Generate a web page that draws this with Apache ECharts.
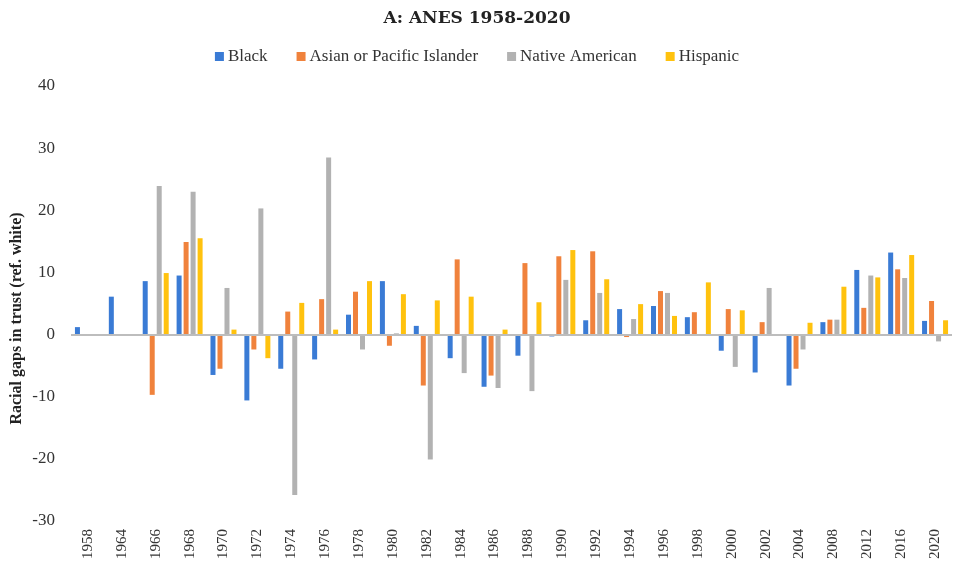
<!DOCTYPE html>
<html>
<head>
<meta charset="utf-8">
<script src="https://cdn.jsdelivr.net/npm/echarts@6/dist/echarts.min.js"></script>
<style>
  html, body { margin: 0; padding: 0; background: #fff; }
  #chart { width: 954px; height: 566px; }
</style>
</head>
<body>
<div id="chart"></div>
<script>
const years = ["1958", "1964", "1966", "1968", "1970", "1972", "1974", "1976", "1978", "1980", "1982", "1984", "1986",
  "1988", "1990", "1992", "1994", "1996", "1998", "2000", "2002", "2004", "2008", "2012", "2016", "2020"];

const black = [1.2, 6.1, 8.6, 9.5, -6.5, -10.6, -5.5, -4.0, 3.2, 8.6, 1.4, -3.8, -8.4,
  -3.4, -0.3, 2.3, 4.1, 4.6, 2.8, -2.6, -6.1, -8.2, 2.0, 10.4, 13.2, 2.2];
const asianPacific = [null, null, -9.7, 14.9, -5.5, -2.4, 3.7, 5.7, 6.9, -1.8, -8.2, 12.1, -6.6,
  11.5, 12.6, 13.4, -0.4, 7.0, 3.6, 4.1, 2.0, -5.5, 2.4, 4.3, 10.5, 5.4];
const nativeAmerican = [null, null, 23.9, 23.0, 7.5, 20.3, -25.8, 28.5, -2.4, 0.2, -20.1, -6.2, -8.6,
  -9.1, 8.8, 6.7, 2.5, 6.7, null, -5.2, 7.5, -2.4, 2.4, 9.5, 9.1, -1.1];
const hispanic = [null, null, 9.9, 15.5, 0.8, -3.8, 5.1, 0.8, 8.6, 6.5, 5.5, 6.1, 0.8,
  5.2, 13.6, 8.9, 4.9, 3.0, 8.4, 3.9, null, 1.9, 7.7, 9.2, 12.8, 2.3];

const seriesDefs = [
  { name: "Black", data: black, color: "#3a7bd5" },
  { name: "Asian or Pacific Islander", data: asianPacific, color: "#f0823c" },
  { name: "Native American", data: nativeAmerican, color: "#b2b2b2" },
  { name: "Hispanic", data: hispanic, color: "#ffc20e" }
];

const serif = "'Liberation Serif', 'DejaVu Serif', serif";
const chart = echarts.init(document.getElementById("chart"));

chart.setOption({
  animation: false,
  textStyle: { fontFamily: serif },
  title: {
    text: "A: ANES 1958-2020",
    left: "center",
    top: 5,
    textStyle: { fontFamily: "'DejaVu Serif', serif", fontSize: 17, fontWeight: "bold", color: "#222" }
  },
  legend: {
    top: 43,
    left: "center",
    itemWidth: 9,
    itemHeight: 9,
    itemGap: 29,
    icon: "rect",
    textStyle: { fontFamily: serif, fontSize: 17, color: "#333", padding: [0, 0, 0, -1] },
    data: seriesDefs.map(s => s.name)
  },
  grid: { left: 71, right: 2, top: 86, bottom: 45, outerBoundsMode: "none" },
  xAxis: {
    type: "category",
    data: years,
    axisLine: { show: false, onZero: false },
    axisTick: { show: false },
    axisLabel: { rotate: 90, fontFamily: serif, fontSize: 15, color: "#333", margin: 8 }
  },
  yAxis: {
    type: "value",
    min: -30,
    max: 40,
    interval: 10,
    name: "Racial gaps in trust (ref. white)",
    nameLocation: "middle",
    nameGap: 46,
    nameMoveOverlap: false,
    nameTextStyle: { fontFamily: serif, fontSize: 16, fontWeight: "bold", color: "#222", padding: [0, 30, 0, 0] },
    axisLine: { show: false },
    axisTick: { show: false },
    splitLine: { show: false },
    axisLabel: { fontFamily: serif, fontSize: 17, color: "#333", margin: 16 }
  },
  series: seriesDefs.map((s, i) => ({
    name: s.name,
    type: "bar",
    data: s.data,
    barWidth: 5,
    barGap: "40%",
    itemStyle: { color: s.color },
    markLine: i === 0 ? {
      silent: true,
      symbol: "none",
      label: { show: false },
      lineStyle: { color: "#bdbdbd", width: 2, type: "solid" },
      data: [{ yAxis: 0 }]
    } : undefined
  }))
});
</script>
</body>
</html>
